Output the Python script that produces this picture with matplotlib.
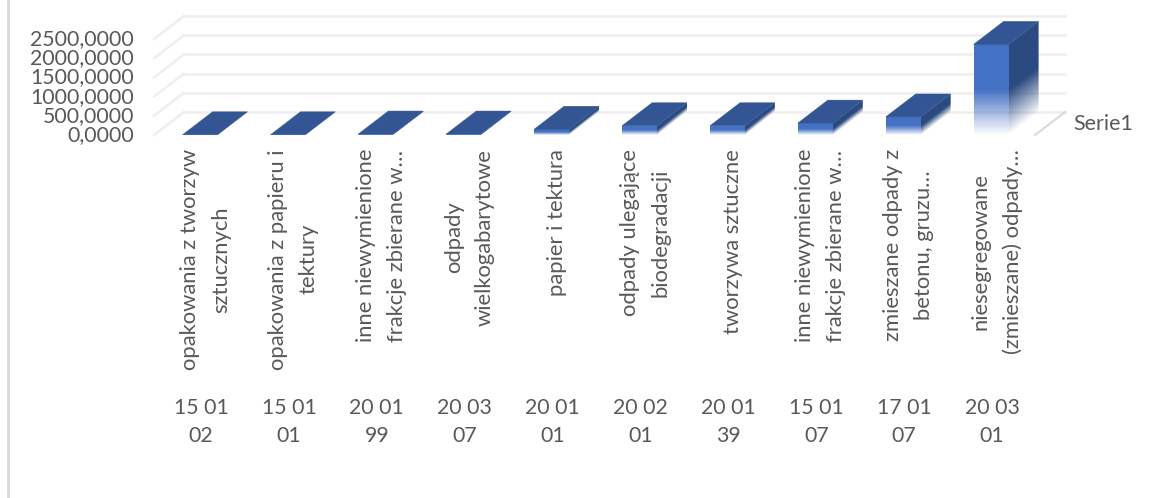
import numpy as np
import matplotlib
matplotlib.use("Agg")
import matplotlib.pyplot as plt
from matplotlib.patches import Polygon

plt.rcParams['font.family'] = ['Lato', 'DejaVu Sans']

codes = ["15 01\n02", "15 01\n01", "20 01\n99", "20 03\n07", "20 01\n01",
         "20 02\n01", "20 01\n39", "15 01\n07", "17 01\n07", "20 03\n01"]
names = ["opakowania z tworzyw\nsztucznych", "opakowania z papieru i\ntektury",
         "inne niewymienione\nfrakcje zbierane w…", "odpady\nwielkogabarytowe",
         "papier i tektura", "odpady ulegające\nbiodegradacji", "tworzywa sztuczne",
         "inne niewymienione\nfrakcje zbierane w…", "zmieszane odpady z\nbetonu, gruzu…",
         "niesegregowane\n(zmieszane) odpady…"]
values = [5, 5, 25, 25, 150, 240, 240, 310, 470, 2360]
y_ticks = [0, 500, 1000, 1500, 2000, 2500]

FRONT = "#4472c4"
TOP = "#335593"
SIDE = "#2b4a80"
TEXT = "#595959"
GRID = "#eeeeee"

# scale of the picture: pixels per category and per unit of value
PX_CAT = 87.9
PX_VAL = 19.2 / 500
X0, Y0 = 200.0, 135.0
W, H = 1152, 498
DX = 30 / PX_CAT       # depth shift in category units
DY = 23 / PX_VAL       # depth shift in value units
BW = 35 / PX_CAT       # bar width


def px(x):
    return (x - X0) / PX_CAT


def py(y):
    return (Y0 - y) / PX_VAL


def fade_face(ax, poly, base_fn, value, color, z):
    xs = [p[0] for p in poly]
    ys = [p[1] for p in poly]
    ext = (min(xs), max(xs), min(ys), max(ys))
    gx, gy = np.meshgrid(np.linspace(ext[0], ext[1], 60), np.linspace(ext[2], ext[3], 300))
    frac = (gy - base_fn(gx)) / value
    rgba = np.zeros(gx.shape + (4,))
    rgba[..., :3] = matplotlib.colors.to_rgb(color)
    rgba[..., 3] = np.clip(frac / 0.5, 0, 1)
    im = ax.imshow(rgba, extent=ext, origin='lower', aspect='auto',
                   interpolation='bilinear', zorder=z)
    im.set_clip_path(Polygon(poly, transform=ax.transData))


fig = plt.figure(figsize=(W / 100, H / 100), dpi=100)
ax = fig.add_axes([0, 0, 1, 1])
ax.axis('off')

left, right = px(154), px(1035)

# back wall and side wall grid
for t in y_ticks:
    ax.plot([left + DX, right + DX], [t + DY, t + DY], color=GRID, lw=1.8, zorder=1)
    ax.plot([left, left + DX], [t, t + DY], color=GRID, lw=1.8, zorder=1)
    ax.text(px(134), t, f"{t},0000", ha='right', va='center', fontsize=15.3, color=TEXT)
ax.plot([right, right + DX], [0, DY], color="#d9d9d9", lw=1.5, zorder=1)

for i, v in enumerate(values):
    xl = i - BW / 2
    xr = i + BW / 2
    z = 3 + i
    front = [(xl, 0), (xr, 0), (xr, v), (xl, v)]
    side = [(xr, 0), (xr + DX, DY), (xr + DX, v + DY), (xr, v)]
    top = [(xl, v), (xr, v), (xr + DX, v + DY), (xl + DX, v + DY)]
    fade_face(ax, side, lambda x: (x - xr) * DY / DX, v, SIDE, z)
    fade_face(ax, front, lambda x: 0 * x, v, FRONT, z + 0.1)
    ax.add_patch(Polygon(top, closed=True, fc=TOP, ec=TOP, lw=0.3, zorder=z + 0.2))

    ax.text(i + px(205.5) - px(200), py(149), names[i], rotation=90, ha='center', va='top',
            multialignment='center', fontsize=15.8, color=TEXT, linespacing=1.68)
    ax.text(i + px(201) - px(200), py(398), codes[i], ha='center', va='top',
            multialignment='center', fontsize=15.3, color=TEXT, linespacing=1.5)

ax.text(px(1073), py(124), "Serie1", ha='left', va='center', fontsize=15.5, color=TEXT)

# picture border on the left
ax.plot([px(8), px(8)], [py(0), py(H)], color="#d9d9d9", lw=2, zorder=1)

ax.set_xlim(px(0), px(W))
ax.set_ylim(py(H), py(0))

fig.savefig("out.png", dpi=100)
